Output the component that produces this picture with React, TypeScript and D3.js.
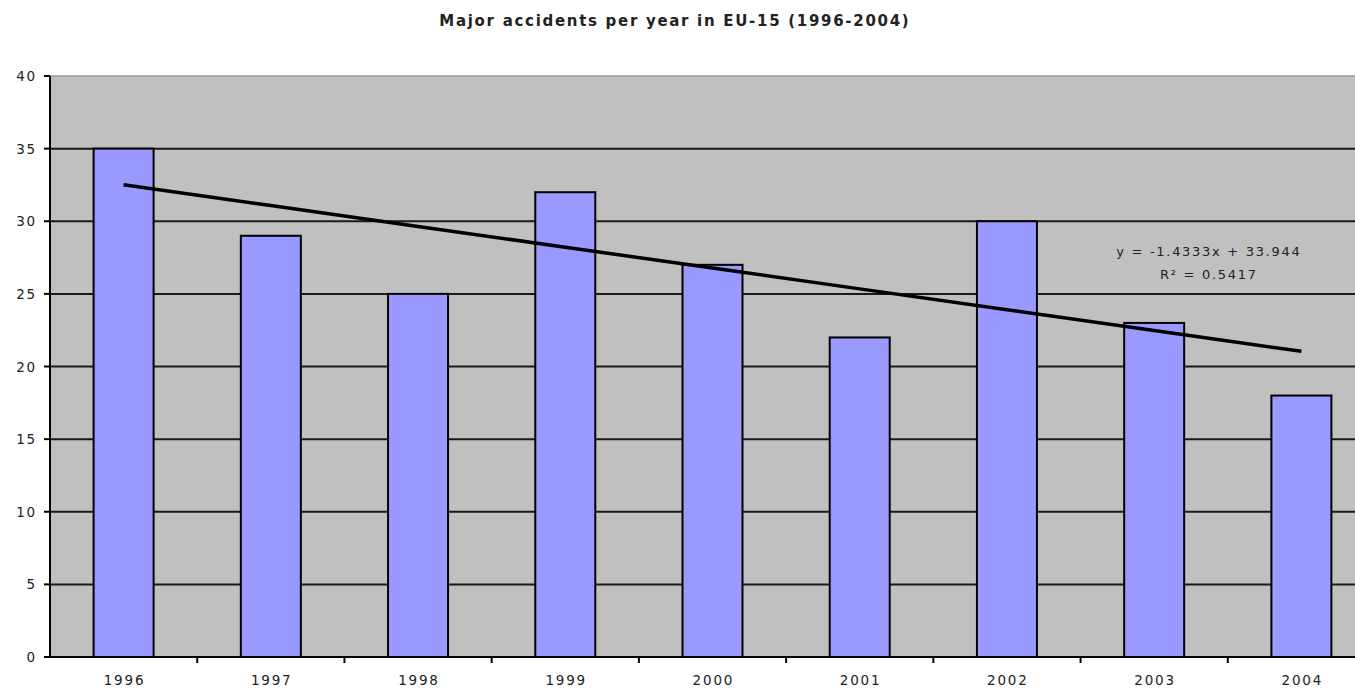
import React from "react";
import * as d3 from "d3";

const categories = ["1996", "1997", "1998", "1999", "2000", "2001", "2002", "2003", "2004"];
const accidents = [35, 29, 25, 32, 27, 22, 30, 23, 18];
const yTicks = [0, 5, 10, 15, 20, 25, 30, 35, 40];
const trendSlope = -1.4333;
const trendIntercept = 33.944;
const trendLabel = "y = -1.4333x + 33.944";
const r2Label = "R² = 0.5417";
const title = "Major accidents per year in EU-15 (1996-2004)";

export default function App() {
  const W = 1355, H = 688;
  const left = 50, right = 1375, top = 76, bottom = 657;
  const band = d3.scaleBand<string>().domain(categories).range([left, right]).padding(0);
  const barW = 60;
  const y = d3.scaleLinear().domain([0, 40]).range([bottom, top]);
  const cx = (i: number) => (band(categories[i]) as number) + band.bandwidth() / 2;
  const font = "'DejaVu Sans', Verdana, sans-serif";
  const trend = d3.line<number>().x((i) => cx(i)).y((i) => y(trendSlope * (i + 1) + trendIntercept));
  const tsp = 1.7, ysp = 1.5, xsp = 1.8, lsp = 1.7;
  return (
    <svg width={W} height={H} style={{ position: "absolute", left: 0, top: 0, background: "#fff" }}>
      <text x={674 + tsp / 2} y={26} textAnchor="middle" fontFamily={font} fontWeight="bold" fontSize={15} letterSpacing={tsp} fill="#222">{title}</text>
      <rect x={left} y={top} width={right - left} height={bottom - top} fill="#c0c0c0" />
      <line x1={left} x2={right} y1={top} y2={top} stroke="#999" strokeWidth={1.5} />
      {yTicks.filter((t) => t > 0 && t < 40).map((t) => (
        <line key={t} x1={left} x2={right} y1={y(t)} y2={y(t)} stroke="#1a1a1a" strokeWidth={2} />
      ))}
      {categories.map((c, i) => (
        <rect key={c} x={cx(i) - barW / 2} y={y(accidents[i])} width={barW} height={y(0) - y(accidents[i])} fill="#9999ff" stroke="#000" strokeWidth={2} />
      ))}
      <path d={trend(d3.range(categories.length)) || ""} fill="none" stroke="#000" strokeWidth={3.5} />
      <line x1={left} x2={left} y1={top} y2={bottom} stroke="#000" strokeWidth={2} />
      <line x1={left} x2={right} y1={bottom} y2={bottom} stroke="#000" strokeWidth={2} />
      {yTicks.map((t) => (
        <g key={t}>
          <line x1={left - 6} x2={left} y1={y(t)} y2={y(t)} stroke="#000" strokeWidth={2} />
          <text x={35 + ysp} y={y(t) + 5} textAnchor="end" fontFamily={font} fontSize={13.5} letterSpacing={ysp} fill="#222">{t}</text>
        </g>
      ))}
      {categories.map((c, i) => (
        <g key={c}>
          {i > 0 && <line x1={band(c) as number} x2={band(c) as number} y1={bottom} y2={bottom + 6} stroke="#000" strokeWidth={2} />}
          <text x={cx(i) + xsp / 2} y={685} textAnchor="middle" fontFamily={font} fontSize={13.5} letterSpacing={xsp} fill="#222">{c}</text>
        </g>
      ))}
      <text x={1208 + lsp / 2} y={256} textAnchor="middle" fontFamily={font} fontSize={13} letterSpacing={lsp} fill="#222">{trendLabel}</text>
      <text x={1208 + lsp / 2} y={279} textAnchor="middle" fontFamily={font} fontSize={13} letterSpacing={lsp} fill="#222">{r2Label}</text>
    </svg>
  );
}
